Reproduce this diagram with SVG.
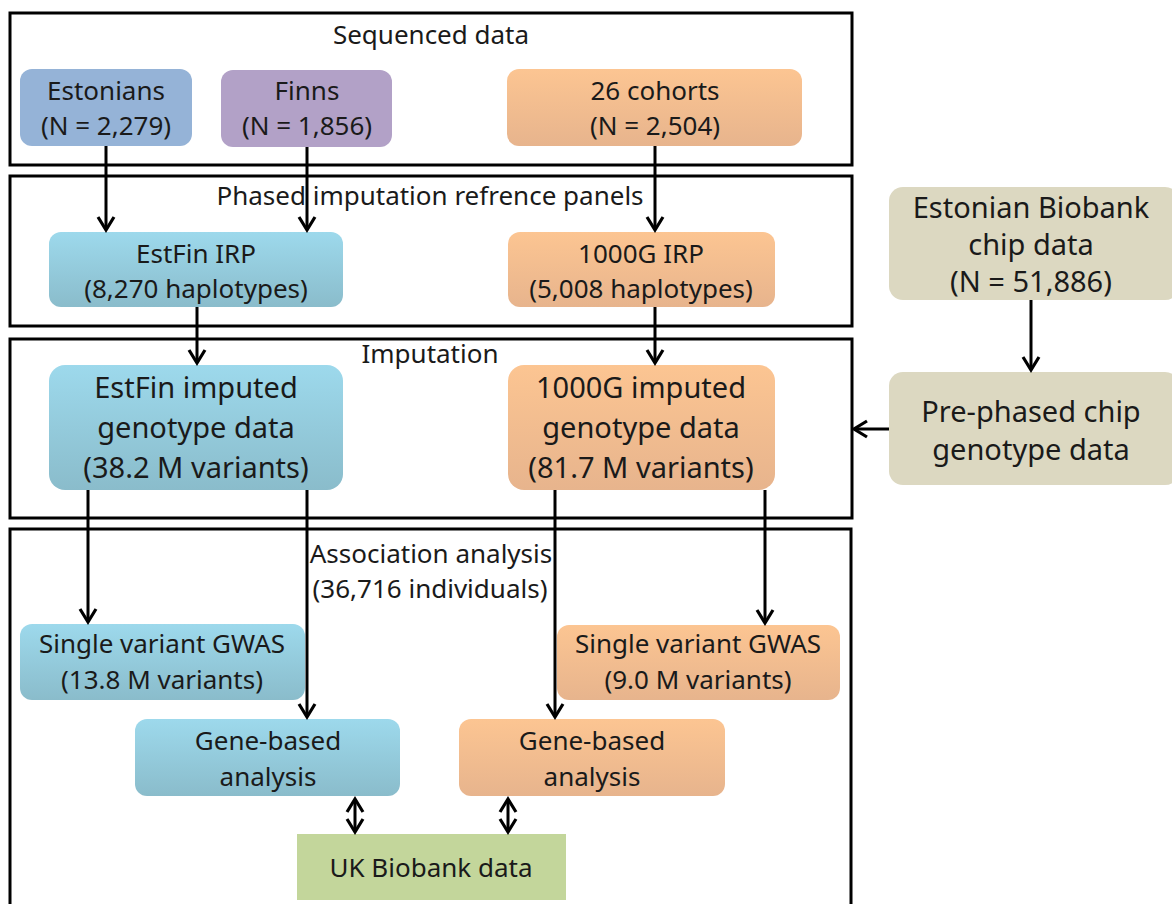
<svg xmlns="http://www.w3.org/2000/svg" width="1172" height="904" viewBox="0 0 1172 904">
<style>
text{font-family:"Noto Sans","Open Sans","Liberation Sans",sans-serif;fill:#1a1a1a;text-anchor:middle}
.t26{font-size:26px}
.t29{font-size:29px}
.frame{fill:none;stroke:#000;stroke-width:3}
.conn{stroke:#000;stroke-width:3;fill:none}
</style>
<defs>
<linearGradient id="gBlue" x1="0" y1="0" x2="0" y2="1">
<stop offset="0" stop-color="#9DD9EC"/>
<stop offset="1" stop-color="#8ABCCB"/>
</linearGradient>
<linearGradient id="gOrange" x1="0" y1="0" x2="0" y2="1">
<stop offset="0" stop-color="#FCC592"/>
<stop offset="1" stop-color="#E7B48D"/>
</linearGradient>
<marker id="arr" markerUnits="userSpaceOnUse" markerWidth="24" markerHeight="24" viewBox="-20 -12 24 24" refX="0" refY="0" orient="auto-start-reverse">
<path d="M-13,-8 L0,0 L-13,8" fill="none" stroke="#000" stroke-width="3.2"/>
</marker>
</defs>

<g id="frames">
<rect class="frame" x="10" y="13" width="842" height="152"/>
<rect class="frame" x="10" y="176" width="842" height="150"/>
<rect class="frame" x="10" y="339" width="842" height="179"/>
<rect class="frame" x="10" y="529" width="841" height="400"/>
</g>

<g id="titles">
<text class="t26" x="431" y="44">Sequenced data</text>
<text class="t26" x="430" y="205">Phased imputation refrence panels</text>
<text class="t26" x="430" y="363">Imputation</text>
<text class="t26" x="431" y="563">Association analysis</text>
<text class="t26" x="430" y="598">(36,716 individuals)</text>
</g>

<g id="estonians">
<rect x="20" y="69" width="172" height="77" rx="12" fill="#95B3D7"/>
<text class="t26" x="106" y="100">Estonians<tspan x="106" dy="35">(N = 2,279)</tspan></text>
</g>
<g id="finns">
<rect x="221" y="70" width="171" height="77" rx="12" fill="#B2A1C7"/>
<text class="t26" x="307" y="100">Finns<tspan x="307" dy="35">(N = 1,856)</tspan></text>
</g>
<g id="cohorts">
<rect x="507" y="69" width="295" height="77" rx="12" fill="url(#gOrange)"/>
<text class="t26" x="655" y="100">26 cohorts<tspan x="655" dy="35">(N = 2,504)</tspan></text>
</g>

<g id="estfin-irp">
<rect x="49" y="232" width="294" height="75" rx="12" fill="url(#gBlue)"/>
<text class="t26" x="196" y="263">EstFin IRP<tspan x="196" dy="35">(8,270 haplotypes)</tspan></text>
</g>
<g id="g1000-irp">
<rect x="508" y="232" width="267" height="75" rx="12" fill="url(#gOrange)"/>
<text class="t26" x="641" y="263">1000G IRP<tspan x="641" dy="35">(5,008 haplotypes)</tspan></text>
</g>

<g id="biobank-chip">
<rect x="889" y="187" width="290" height="113" rx="14" fill="#DCD8C1"/>
<text class="t29" x="1031" y="218">Estonian Biobank<tspan x="1031" dy="37">chip data</tspan><tspan x="1031" dy="37">(N = 51,886)</tspan></text>
</g>
<g id="prephased">
<rect x="889" y="372" width="290" height="113" rx="14" fill="#DCD8C1"/>
<text class="t29" x="1031" y="422">Pre-phased chip<tspan x="1031" dy="38">genotype data</tspan></text>
</g>

<g id="estfin-imputed">
<rect x="49" y="365" width="294" height="125" rx="16" fill="url(#gBlue)"/>
<text class="t29" x="196" y="398">EstFin imputed<tspan x="196" dy="40">genotype data</tspan><tspan x="196" dy="40">(38.2 M variants)</tspan></text>
</g>
<g id="g1000-imputed">
<rect x="508" y="365" width="267" height="125" rx="16" fill="url(#gOrange)"/>
<text class="t29" x="641" y="398">1000G imputed<tspan x="641" dy="40">genotype data</tspan><tspan x="641" dy="40">(81.7 M variants)</tspan></text>
</g>

<g id="gwas-estfin">
<rect x="20" y="624" width="285" height="76" rx="12" fill="url(#gBlue)"/>
<text class="t26" x="162" y="653">Single variant GWAS<tspan x="162" dy="36">(13.8 M variants)</tspan></text>
</g>
<g id="gene-estfin">
<rect x="135" y="719" width="265" height="77" rx="12" fill="url(#gBlue)"/>
<text class="t26" x="268" y="750">Gene-based<tspan x="268" dy="36">analysis</tspan></text>
</g>
<g id="gwas-1000g">
<rect x="557" y="625" width="283" height="75" rx="12" fill="url(#gOrange)"/>
<text class="t26" x="698" y="653">Single variant GWAS<tspan x="698" dy="36">(9.0 M variants)</tspan></text>
</g>
<g id="gene-1000g">
<rect x="459" y="719" width="266" height="77" rx="12" fill="url(#gOrange)"/>
<text class="t26" x="592" y="750">Gene-based<tspan x="592" dy="36">analysis</tspan></text>
</g>
<g id="ukbiobank">
<rect x="297" y="834" width="269" height="66" fill="#C3D69B"/>
<text class="t26" x="431" y="877">UK Biobank data</text>
</g>

<g id="connectors">
<line class="conn" x1="106" y1="146" x2="106" y2="230" marker-end="url(#arr)"/>
<line class="conn" x1="307" y1="147" x2="307" y2="230" marker-end="url(#arr)"/>
<line class="conn" x1="655" y1="146" x2="655" y2="230" marker-end="url(#arr)"/>
<line class="conn" x1="197" y1="307" x2="197" y2="363" marker-end="url(#arr)"/>
<line class="conn" x1="655" y1="307" x2="655" y2="363" marker-end="url(#arr)"/>
<line class="conn" x1="1031" y1="300" x2="1031" y2="370" marker-end="url(#arr)"/>
<line class="conn" x1="889" y1="429" x2="854" y2="429" marker-end="url(#arr)"/>
<line class="conn" x1="88" y1="490" x2="88" y2="622" marker-end="url(#arr)"/>
<line class="conn" x1="307" y1="490" x2="307" y2="717" marker-end="url(#arr)"/>
<line class="conn" x1="555" y1="490" x2="555" y2="717" marker-end="url(#arr)"/>
<line class="conn" x1="765" y1="490" x2="765" y2="623" marker-end="url(#arr)"/>
<line class="conn" x1="355" y1="799" x2="355" y2="832" marker-start="url(#arr)" marker-end="url(#arr)"/>
<line class="conn" x1="508" y1="799" x2="508" y2="832" marker-start="url(#arr)" marker-end="url(#arr)"/>
</g>
</svg>
